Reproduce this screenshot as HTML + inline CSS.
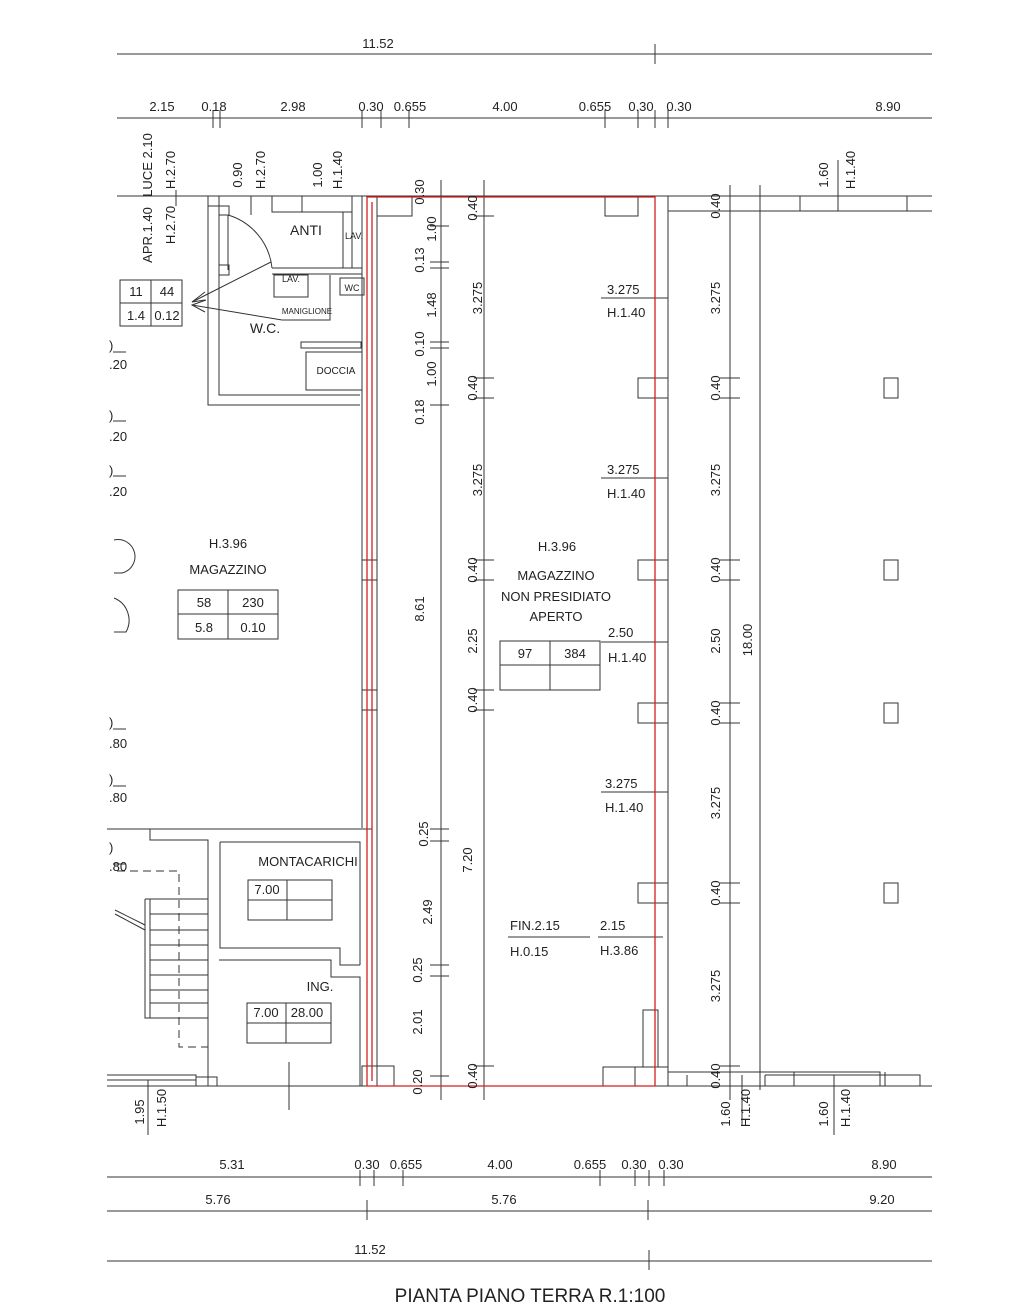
<!DOCTYPE html>
<html><head><meta charset="utf-8"><style>
html,body{margin:0;padding:0;background:#fff;}
svg{display:block;}
text{font-family:"Liberation Sans",sans-serif;font-size:13px;fill:#222;}
</style></head><body>
<svg width="1024" height="1311" viewBox="0 0 1024 1311" xmlns="http://www.w3.org/2000/svg">
<g stroke="#333" stroke-width="1" fill="none">
<line x1="117" y1="54" x2="932" y2="54"/><line x1="655" y1="44" x2="655" y2="64"/>
<line x1="117" y1="118" x2="932" y2="118"/>
<line x1="213" y1="110" x2="213" y2="128"/><line x1="220" y1="110" x2="220" y2="128"/>
<line x1="362" y1="110" x2="362" y2="128"/><line x1="381" y1="110" x2="381" y2="128"/>
<line x1="409" y1="110" x2="409" y2="128"/><line x1="605" y1="110" x2="605" y2="128"/>
<line x1="638" y1="110" x2="638" y2="128"/><line x1="655" y1="110" x2="655" y2="128"/>
<line x1="668" y1="110" x2="668" y2="128"/>
<line x1="117" y1="196" x2="932" y2="196"/>
<line x1="668" y1="211" x2="932" y2="211"/>
<rect x="800" y="196" width="107" height="15"/><line x1="838" y1="160" x2="838" y2="211"/>
<line x1="907" y1="196" x2="907" y2="211"/>
<line x1="176" y1="190" x2="176" y2="206"/>
<path d="M208 196 V405 H360"/><path d="M219 206 V395 H360"/>
<rect x="208" y="196" width="11" height="10"/>
<path d="M219 206 H229 V215 H219"/>
<path d="M219 265 H229 V275 H219"/>
<path d="M228 215 A62 62 0 0 1 272 268"/>
<line x1="228" y1="215" x2="228" y2="270"/>
<line x1="251" y1="196" x2="251" y2="215"/>
<path d="M272 196 V212 H352 V196"/><line x1="302" y1="196" x2="302" y2="212"/>
<path d="M343 212 V268"/><path d="M352 212 V268"/>
<line x1="272" y1="268" x2="362" y2="268"/><line x1="272" y1="274" x2="362" y2="274"/>
<rect x="274" y="275" width="34" height="22"/>
<path d="M330 275 V320 H282"/>
<rect x="340" y="278" width="24" height="17"/>
<rect x="301" y="342" width="60" height="6"/>
<rect x="306" y="352" width="56" height="38"/>
<line x1="271" y1="262" x2="192" y2="302"/><line x1="282" y1="320" x2="192" y2="305"/>
<path d="M205 292 L192 302 L205 300"/><path d="M206 300 L192 305 L205 312"/>
<line x1="362" y1="196" x2="362" y2="828"/><line x1="377" y1="196" x2="377" y2="1086"/>
<line x1="362" y1="560" x2="377" y2="560"/><line x1="362" y1="580" x2="377" y2="580"/>
<line x1="362" y1="690" x2="377" y2="690"/><line x1="362" y1="710" x2="377" y2="710"/>
<rect x="377" y="196" width="35" height="20"/>
<line x1="655" y1="196" x2="655" y2="1086"/><line x1="668" y1="196" x2="668" y2="1070"/>
<rect x="605" y="196" width="33" height="20"/>
<rect x="638" y="378" width="30" height="20"/><rect x="638" y="560" width="30" height="20"/>
<rect x="638" y="703" width="30" height="20"/><rect x="638" y="883" width="30" height="20"/>
<rect x="643" y="1010" width="15" height="57"/>
<rect x="603" y="1067" width="65" height="19"/><line x1="635" y1="1067" x2="635" y2="1086"/>
<line x1="107" y1="1086" x2="932" y2="1086"/>
<path d="M668 1072 H880 V1086"/><path d="M687 1075 V1086 M765 1075 V1086 M765 1075 H920 V1086 M794 1072 V1086 M885 1072 V1086 M790 1075 H900"/>
<line x1="742" y1="1075" x2="742" y2="1125"/><line x1="834" y1="1075" x2="834" y2="1135"/>
<rect x="362" y="1066" width="32" height="20"/>
<line x1="441" y1="180" x2="441" y2="1100"/><line x1="484" y1="180" x2="484" y2="1100"/>
<line x1="730" y1="185" x2="730" y2="1100"/><line x1="760" y1="185" x2="760" y2="1090"/>
<g>
<line x1="430" y1="226" x2="449" y2="226"/>
<line x1="430" y1="262" x2="449" y2="262"/><line x1="430" y1="268" x2="449" y2="268"/>
<line x1="430" y1="342" x2="449" y2="342"/><line x1="430" y1="348" x2="449" y2="348"/>
<line x1="430" y1="405" x2="449" y2="405"/>
<line x1="430" y1="829" x2="449" y2="829"/><line x1="430" y1="841" x2="449" y2="841"/>
<line x1="430" y1="965" x2="449" y2="965"/><line x1="430" y1="976" x2="449" y2="976"/>
<line x1="430" y1="1076" x2="449" y2="1076"/>
<line x1="474" y1="216" x2="494" y2="216"/><line x1="474" y1="378" x2="494" y2="378"/><line x1="474" y1="398" x2="494" y2="398"/>
<line x1="474" y1="560" x2="494" y2="560"/><line x1="474" y1="580" x2="494" y2="580"/>
<line x1="474" y1="690" x2="494" y2="690"/><line x1="474" y1="710" x2="494" y2="710"/>
<line x1="474" y1="1066" x2="494" y2="1066"/>
<line x1="720" y1="211" x2="740" y2="211"/><line x1="720" y1="378" x2="740" y2="378"/><line x1="720" y1="398" x2="740" y2="398"/>
<line x1="720" y1="560" x2="740" y2="560"/><line x1="720" y1="580" x2="740" y2="580"/>
<line x1="720" y1="703" x2="740" y2="703"/><line x1="720" y1="723" x2="740" y2="723"/>
<line x1="720" y1="883" x2="740" y2="883"/><line x1="720" y1="903" x2="740" y2="903"/>
<line x1="720" y1="1066" x2="740" y2="1066"/>
</g>
<rect x="884" y="378" width="14" height="20"/><rect x="884" y="560" width="14" height="20"/>
<rect x="884" y="703" width="14" height="20"/><rect x="884" y="883" width="14" height="20"/>
<line x1="601" y1="298" x2="668" y2="298"/><line x1="601" y1="478" x2="668" y2="478"/>
<line x1="601" y1="642" x2="668" y2="642"/><line x1="601" y1="792" x2="668" y2="792"/>
<line x1="508" y1="937" x2="590" y2="937"/><line x1="598" y1="937" x2="663" y2="937"/>
<path d="M114 540 A14 14 0 0 1 122 573 H114"/><path d="M114 598 A24 24 0 0 1 126 632 H114"/>
<line x1="113" y1="352" x2="126" y2="352"/><line x1="113" y1="421" x2="126" y2="421"/>
<line x1="113" y1="476" x2="126" y2="476"/><line x1="113" y1="729" x2="126" y2="729"/>
<line x1="113" y1="786" x2="126" y2="786"/><line x1="113" y1="864" x2="126" y2="864"/>
<line x1="107" y1="829" x2="372" y2="829"/>
<path d="M150 829 V840 H208 V1086"/>
<path d="M220 842 H360 V965"/><path d="M220 842 V948 H340 V965 H360"/>
<path d="M219 960 H331 V977 H360 V1086"/>
<path d="M145 899 V1018 H208"/><line x1="150" y1="899" x2="150" y2="1018"/>
<g><line x1="145" y1="899" x2="208" y2="899"/><line x1="150" y1="914" x2="208" y2="914"/><line x1="150" y1="930" x2="208" y2="930"/><line x1="150" y1="945" x2="208" y2="945"/><line x1="150" y1="960" x2="208" y2="960"/><line x1="150" y1="975" x2="208" y2="975"/><line x1="150" y1="990" x2="208" y2="990"/><line x1="150" y1="1003" x2="208" y2="1003"/></g>
<path d="M115 910 L145 925 M115 914 L145 930"/>
<path d="M117 871 H179 V1047 H208" stroke-dasharray="8 5"/>
<path d="M107 1075 H196 V1086 M196 1077 H217 V1086 M107 1080 H196"/>
<line x1="148" y1="1080" x2="148" y2="1135"/><line x1="289" y1="1062" x2="289" y2="1110"/>
<rect x="120" y="280" width="62" height="46"/><line x1="151" y1="280" x2="151" y2="326"/><line x1="120" y1="303" x2="182" y2="303"/>
<rect x="178" y="590" width="100" height="49"/><line x1="228" y1="590" x2="228" y2="639"/><line x1="178" y1="614" x2="278" y2="614"/>
<rect x="500" y="641" width="100" height="49"/><line x1="550" y1="641" x2="550" y2="690"/><line x1="500" y1="665" x2="600" y2="665"/>
<rect x="248" y="880" width="84" height="40"/><line x1="287" y1="880" x2="287" y2="920"/><line x1="248" y1="900" x2="332" y2="900"/>
<rect x="247" y="1003" width="84" height="40"/><line x1="286" y1="1003" x2="286" y2="1043"/><line x1="247" y1="1023" x2="331" y2="1023"/>
<line x1="107" y1="1177" x2="932" y2="1177"/>
<line x1="360" y1="1170" x2="360" y2="1186"/><line x1="374" y1="1170" x2="374" y2="1186"/><line x1="403" y1="1170" x2="403" y2="1186"/>
<line x1="600" y1="1170" x2="600" y2="1186"/><line x1="635" y1="1170" x2="635" y2="1186"/><line x1="649" y1="1170" x2="649" y2="1186"/><line x1="664" y1="1170" x2="664" y2="1186"/>
<line x1="107" y1="1211" x2="932" y2="1211"/><line x1="367" y1="1200" x2="367" y2="1220"/><line x1="648" y1="1200" x2="648" y2="1220"/>
<line x1="107" y1="1261" x2="932" y2="1261"/><line x1="649" y1="1250" x2="649" y2="1270"/>
</g>
<g stroke="#d42020" stroke-width="1.3" fill="none">
<path d="M367 197 H655 V1086 H367 Z"/>
<path d="M372 202 V1081"/>
</g>
<text x="378" y="48" text-anchor="middle">11.52</text>
<g text-anchor="middle">
<text x="162" y="111">2.15</text><text x="214" y="111">0.18</text><text x="293" y="111">2.98</text><text x="371" y="111">0.30</text><text x="410" y="111">0.655</text><text x="505" y="111">4.00</text><text x="595" y="111">0.655</text><text x="641" y="111">0.30</text><text x="679" y="111">0.30</text><text x="888" y="111">8.90</text>
<text x="232" y="1169">5.31</text><text x="367" y="1169">0.30</text><text x="406" y="1169">0.655</text><text x="500" y="1169">4.00</text><text x="590" y="1169">0.655</text><text x="634" y="1169">0.30</text><text x="671" y="1169">0.30</text><text x="884" y="1169">8.90</text>
<text x="218" y="1204">5.76</text><text x="504" y="1204">5.76</text><text x="882" y="1204">9.20</text>
<text x="370" y="1254">11.52</text>
<text x="530" y="1302" style="font-size:19px">PIANTA PIANO TERRA  R.1:100</text>
<text x="306" y="235" style="font-size:14px">ANTI</text>
<text x="354" y="239" style="font-size:9px">LAV.</text>
<text x="291" y="282" style="font-size:9px">LAV.</text>
<text x="352" y="291" style="font-size:9px">WC</text>
<text x="307" y="314" style="font-size:8px">MANIGLIONE</text>
<text x="265" y="333" style="font-size:14px">W.C.</text>
<text x="336" y="374" style="font-size:10px">DOCCIA</text>
<text x="136" y="296">11</text><text x="167" y="296">44</text><text x="136" y="320">1.4</text><text x="167" y="320">0.12</text>
<text x="228" y="548">H.3.96</text><text x="228" y="574">MAGAZZINO</text>
<text x="204" y="607">58</text><text x="253" y="607">230</text><text x="204" y="632">5.8</text><text x="253" y="632">0.10</text>
<text x="557" y="551">H.3.96</text><text x="556" y="580">MAGAZZINO</text><text x="556" y="601">NON PRESIDIATO</text><text x="556" y="621">APERTO</text>
<text x="525" y="658">97</text><text x="575" y="658">384</text>
<text x="308" y="866">MONTACARICHI</text>
<text x="267" y="894">7.00</text>
<text x="320" y="991">ING.</text>
<text x="266" y="1017">7.00</text><text x="307" y="1017">28.00</text>
</g>
<g>
<text x="607" y="294">3.275</text><text x="607" y="317">H.1.40</text>
<text x="607" y="474">3.275</text><text x="607" y="498">H.1.40</text>
<text x="608" y="637">2.50</text><text x="608" y="662">H.1.40</text>
<text x="605" y="788">3.275</text><text x="605" y="812">H.1.40</text>
<text x="510" y="930">FIN.2.15</text><text x="510" y="956">H.0.15</text>
<text x="600" y="930">2.15</text><text x="600" y="955">H.3.86</text>
<text x="109" y="350">)</text><text x="109" y="369">.20</text>
<text x="109" y="420">)</text><text x="109" y="441">.20</text>
<text x="109" y="475">)</text><text x="109" y="496">.20</text>
<text x="109" y="727">)</text><text x="109" y="748">.80</text>
<text x="109" y="784">)</text><text x="109" y="802">.80</text>
<text x="109" y="852">)</text><text x="109" y="871">.80</text>
</g>
<g text-anchor="middle">
<text transform="translate(152,165) rotate(-90)">LUCE 2.10</text>
<text transform="translate(175,170) rotate(-90)">H.2.70</text>
<text transform="translate(152,235) rotate(-90)">APR.1.40</text>
<text transform="translate(175,225) rotate(-90)">H.2.70</text>
<text transform="translate(242,175) rotate(-90)">0.90</text>
<text transform="translate(265,170) rotate(-90)">H.2.70</text>
<text transform="translate(322,175) rotate(-90)">1.00</text>
<text transform="translate(342,170) rotate(-90)">H.1.40</text>
<text transform="translate(828,175) rotate(-90)">1.60</text>
<text transform="translate(855,170) rotate(-90)">H.1.40</text>
<text transform="translate(424,192) rotate(-90)">0.30</text>
<text transform="translate(436,229) rotate(-90)">1.00</text>
<text transform="translate(424,260) rotate(-90)">0.13</text>
<text transform="translate(436,305) rotate(-90)">1.48</text>
<text transform="translate(424,344) rotate(-90)">0.10</text>
<text transform="translate(436,374) rotate(-90)">1.00</text>
<text transform="translate(424,412) rotate(-90)">0.18</text>
<text transform="translate(424,609) rotate(-90)">8.61</text>
<text transform="translate(428,834) rotate(-90)">0.25</text>
<text transform="translate(432,912) rotate(-90)">2.49</text>
<text transform="translate(422,970) rotate(-90)">0.25</text>
<text transform="translate(422,1022) rotate(-90)">2.01</text>
<text transform="translate(422,1082) rotate(-90)">0.20</text>
<text transform="translate(477,208) rotate(-90)">0.40</text>
<text transform="translate(482,298) rotate(-90)">3.275</text>
<text transform="translate(477,388) rotate(-90)">0.40</text>
<text transform="translate(482,480) rotate(-90)">3.275</text>
<text transform="translate(477,570) rotate(-90)">0.40</text>
<text transform="translate(477,641) rotate(-90)">2.25</text>
<text transform="translate(477,700) rotate(-90)">0.40</text>
<text transform="translate(472,860) rotate(-90)">7.20</text>
<text transform="translate(477,1076) rotate(-90)">0.40</text>
<text transform="translate(720,206) rotate(-90)">0.40</text>
<text transform="translate(720,298) rotate(-90)">3.275</text>
<text transform="translate(720,388) rotate(-90)">0.40</text>
<text transform="translate(720,480) rotate(-90)">3.275</text>
<text transform="translate(720,570) rotate(-90)">0.40</text>
<text transform="translate(720,641) rotate(-90)">2.50</text>
<text transform="translate(720,713) rotate(-90)">0.40</text>
<text transform="translate(720,803) rotate(-90)">3.275</text>
<text transform="translate(720,893) rotate(-90)">0.40</text>
<text transform="translate(720,986) rotate(-90)">3.275</text>
<text transform="translate(720,1076) rotate(-90)">0.40</text>
<text transform="translate(752,640) rotate(-90)">18.00</text>
<text transform="translate(144,1112) rotate(-90)">1.95</text>
<text transform="translate(166,1108) rotate(-90)">H.1.50</text>
<text transform="translate(730,1114) rotate(-90)">1.60</text>
<text transform="translate(750,1108) rotate(-90)">H.1.40</text>
<text transform="translate(828,1114) rotate(-90)">1.60</text>
<text transform="translate(850,1108) rotate(-90)">H.1.40</text>
</g>
</svg>
</body></html>
